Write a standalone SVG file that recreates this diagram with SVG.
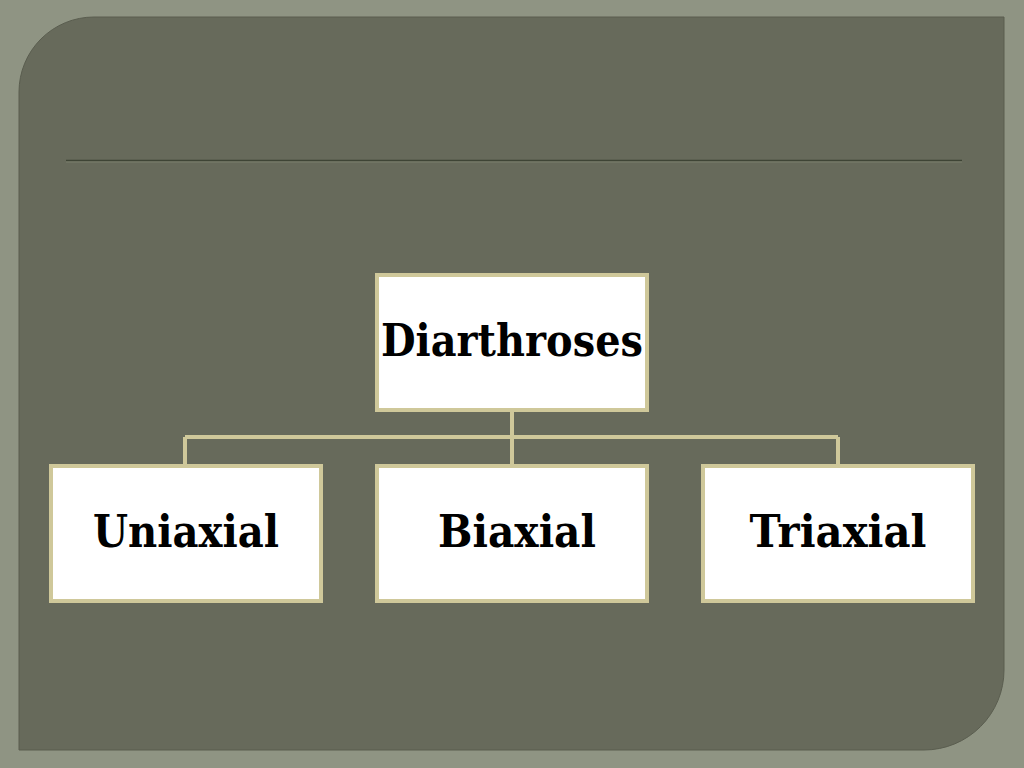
<svg xmlns="http://www.w3.org/2000/svg" width="1024" height="768" viewBox="0 0 1024 768">
  <defs>
    <style>
      .box { fill: #ffffff; stroke: #cfc89a; stroke-width: 4; }
      .lbl { font-family: "DejaVu Serif", "Liberation Serif", serif; font-weight: bold; font-size: 44px; fill: #000000; text-anchor: middle; }
      .conn { fill: none; stroke: #cfc89a; stroke-width: 4; }
    </style>
  </defs>
  <rect x="0" y="0" width="1024" height="768" fill="#8f9483"/>
  <path d="M94,17 H1004 V670 A80,80 0 0 1 924,750 H19 V92 A75,75 0 0 1 94,17 Z" fill="#676a5b" stroke="#5a5d4f" stroke-width="1"/>
  <line x1="66" y1="160.5" x2="962" y2="160.5" stroke="#3e4435" stroke-width="1.5"/>
  <line x1="66" y1="162" x2="962" y2="162" stroke="#7a7e6c" stroke-width="1"/>
  <g id="connectors">
    <path class="conn" d="M512,411 V437 M185,437 H838 M185,437 V464 M512,437 V464 M838,437 V464"/>
  </g>
  <g id="node-diarthroses">
    <rect class="box" x="377" y="275" width="270" height="135"/>
    <text class="lbl" x="512" y="356" textLength="262" lengthAdjust="spacingAndGlyphs">Diarthroses</text>
  </g>
  <g id="node-uniaxial">
    <rect class="box" x="51" y="466" width="270" height="135"/>
    <text class="lbl" x="186" y="547" textLength="186" lengthAdjust="spacingAndGlyphs">Uniaxial</text>
  </g>
  <g id="node-biaxial">
    <rect class="box" x="377" y="466" width="270" height="135"/>
    <text class="lbl" x="517" y="547" textLength="158" lengthAdjust="spacingAndGlyphs">Biaxial</text>
  </g>
  <g id="node-triaxial">
    <rect class="box" x="703" y="466" width="270" height="135"/>
    <text class="lbl" x="838" y="547" textLength="177" lengthAdjust="spacingAndGlyphs">Triaxial</text>
  </g>
</svg>
